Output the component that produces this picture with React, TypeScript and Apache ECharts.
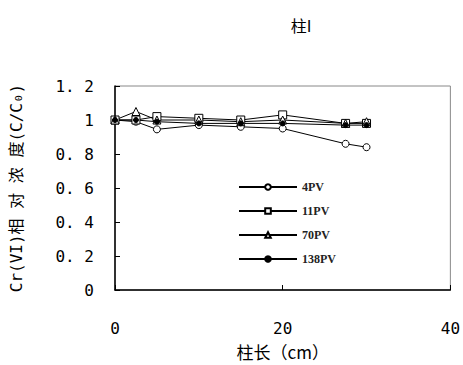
import React, { useEffect, useRef } from "react";
import * as echarts from "echarts";

const columnLength = [0, 2.5, 5, 10, 15, 20, 27.5, 30];
const pv4 = [1.0, 0.99, 0.945, 0.97, 0.96, 0.95, 0.86, 0.84];
const pv11 = [1.0, 1.0, 1.02, 1.01, 1.0, 1.03, 0.98, 0.98];
const pv70 = [1.0, 1.05, 1.0, 1.0, 0.99, 1.0, 0.98, 0.99];
const pv138 = [1.0, 1.0, 0.99, 0.98, 0.98, 0.98, 0.97, 0.97];
const seriesNames = ["4PV", "11PV", "70PV", "138PV"];
const yTickLabels: Record<string, string> = {
  "0": "0",
  "0.2": "0. 2",
  "0.4": "0. 4",
  "0.6": "0. 6",
  "0.8": "0. 8",
  "1": "1",
  "1.2": "1. 2",
};

export default function App() {
  const ref = useRef<HTMLDivElement>(null);
  useEffect(() => {
    if (!ref.current) return;
    const chart = echarts.init(ref.current, null, { renderer: "svg" });
    const pair = (ys: number[]) => columnLength.map((x, i) => [x, ys[i]]);
    const mk = (name: string, ys: number[], symbol: string, size: number, fill: string) => ({
      name,
      type: "line",
      data: pair(ys),
      symbol,
      symbolSize: size,
      showAllSymbol: true,
      lineStyle: { color: "#000", width: 1 },
      itemStyle: { color: fill, borderColor: "#000", borderWidth: 1 },
    });
    chart.setOption({
      animation: false,
      backgroundColor: "#fff",
      title: {
        text: "柱I",
        left: 296,
        top: 12,
        textAlign: "center",
        textStyle: { fontFamily: "Noto Sans CJK SC", fontSize: 16, fontWeight: "normal", color: "#000" },
      },
      legend: {
        orient: "vertical",
        left: 233,
        top: 176,
        itemWidth: 58,
        itemHeight: 7,
        itemGap: 12,
        data: seriesNames,
        textStyle: { fontFamily: "Liberation Serif", fontSize: 12, fontWeight: "bold", color: "#222" },
      },
      grid: {
        left: 113,
        right: 12,
        top: 86,
        bottom: 64,
        show: true,
        borderColor: "#888",
        borderWidth: 1,
      },
      xAxis: {
        type: "value",
        min: 0,
        max: 40,
        interval: 20,
        name: "柱长（cm）",
        nameLocation: "middle",
        nameGap: 53,
        nameTextStyle: { fontFamily: "Noto Sans CJK SC", fontSize: 17, color: "#000" },
        axisLine: { lineStyle: { color: "#000", width: 1.5 } },
        axisTick: { show: true, inside: true, length: 5, lineStyle: { color: "#000" } },
        axisLabel: { margin: 30, fontFamily: "DejaVu Sans Mono", fontSize: 16, color: "#000" },
        splitLine: { show: false },
      },
      yAxis: {
        type: "value",
        min: 0,
        max: 1.2,
        interval: 0.2,
        name: "Cr(VI)相 对 浓 度(C/C₀)",
        nameLocation: "middle",
        nameRotate: 90,
        nameGap: 91,
        nameTextStyle: { fontFamily: "DejaVu Sans Mono, Noto Sans CJK SC", fontSize: 16, color: "#000" },
        axisLine: { lineStyle: { color: "#000", width: 1.5 } },
        axisTick: { show: true, inside: true, length: 5, lineStyle: { color: "#000" } },
        axisLabel: {
          margin: 21,
          align: "right",
          fontFamily: "DejaVu Sans Mono",
          fontSize: 16,
          color: "#000",
          formatter: (v: number) => yTickLabels[String(Math.round(v * 10) / 10)] ?? String(v),
        },
        splitLine: { show: false },
      },
      series: [
        mk("4PV", pv4, "circle", 7, "#fff"),
        mk("11PV", pv11, "rect", 8, "#fff"),
        mk("70PV", pv70, "triangle", 8, "#fff"),
        mk("138PV", pv138, "circle", 5, "#000"),
      ],
    });
    return () => chart.dispose();
  }, []);
  return <div ref={ref} style={{ width: 463, height: 365, position: "absolute", left: 0, top: 0 }} />;
}
